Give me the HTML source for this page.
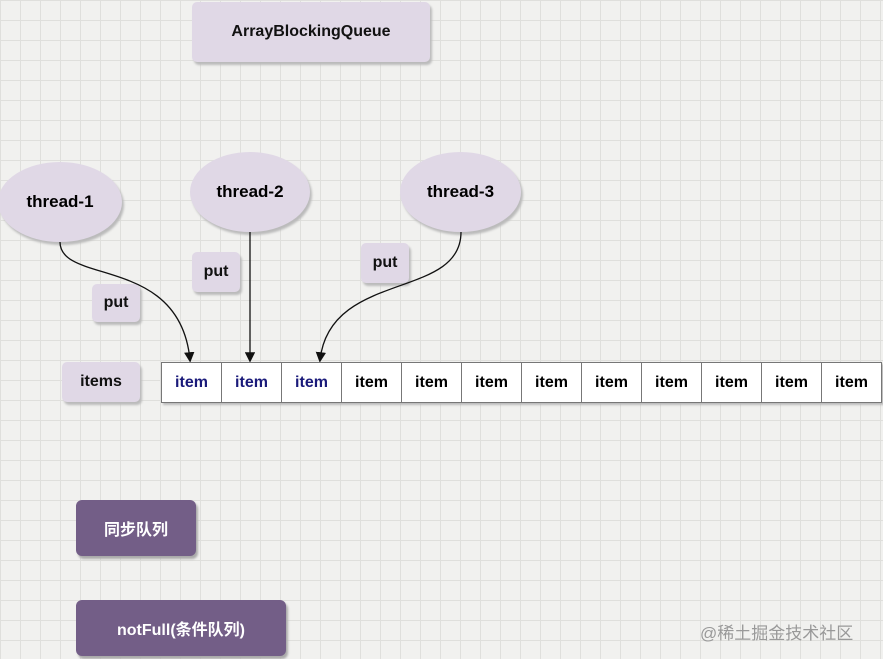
<!DOCTYPE html>
<html><head><style>
body{margin:0;width:883px;height:659px;overflow:hidden;background-color:#f1f1ef;
background-image:linear-gradient(#dfdfdc 1px,transparent 1px),linear-gradient(90deg,#dfdfdc 1px,transparent 1px);
background-size:20px 20px;font-family:"Comic Sans MS","Liberation Sans","Noto Sans CJK SC",sans-serif;position:relative}
.b{position:absolute;background:#e0d8e6;border-radius:5px;box-shadow:2px 3px 2px #bbb;display:flex;align-items:center;justify-content:center;font-weight:bold;font-size:16px;color:#111}
.e{position:absolute;background:#e0d8e6;border-radius:50%;box-shadow:2px 3px 2px #bbb;display:flex;align-items:center;justify-content:center;font-weight:bold;font-size:17px}
.p{position:absolute;background:#735e87;color:#fff;border-radius:6px;box-shadow:2px 3px 2px #aaa;display:flex;align-items:center;justify-content:center;font-weight:bold;font-size:16px}
.row{position:absolute;left:161px;top:362px;display:flex;border:1px solid #777;box-shadow:2px 2px 2px #bbb}
.row div{width:59px;height:39px;border-right:1px solid #777;background:#fff;display:flex;align-items:center;justify-content:center;font-weight:bold;font-size:16px}
.row div:last-child{border-right:none}
.n{color:#1a1a7a}
</style></head><body>
<div class="b" style="left:192px;top:2px;width:238px;height:60px">ArrayBlockingQueue</div>
<div class="e" style="left:-2px;top:162px;width:124px;height:80px">thread-1</div>
<div class="e" style="left:190px;top:152px;width:120px;height:80px">thread-2</div>
<div class="e" style="left:400px;top:152px;width:121px;height:80px">thread-3</div>
<div class="b" style="left:92px;top:284px;width:48px;height:38px">put</div>
<div class="b" style="left:192px;top:252px;width:48px;height:40px">put</div>
<div class="b" style="left:361px;top:243px;width:48px;height:40px">put</div>
<div class="b" style="left:62px;top:362px;width:78px;height:40px">items</div>
<svg style="position:absolute;left:0;top:0" width="883" height="659">
<defs><marker id="a" markerWidth="8" markerHeight="8" refX="6" refY="4" orient="auto"><path d="M0,0 L8,4 L0,8 z" fill="#111"/></marker></defs>
<path d="M60,242 C60,285 180,255 190,360" stroke="#111" stroke-width="1.3" fill="none" marker-end="url(#a)"/>
<path d="M250,232 L250,360" stroke="#111" stroke-width="1.3" fill="none" marker-end="url(#a)"/>
<path d="M461,232 C461,300 330,270 320,360" stroke="#111" stroke-width="1.3" fill="none" marker-end="url(#a)"/>
</svg>
<div class="row"><div class="n">item</div><div class="n">item</div><div class="n">item</div><div>item</div><div>item</div><div>item</div><div>item</div><div>item</div><div>item</div><div>item</div><div>item</div><div>item</div></div>
<div class="p" style="left:76px;top:500px;width:120px;height:56px">同步队列</div>
<div class="p" style="left:76px;top:600px;width:210px;height:56px">notFull(条件队列)</div>
<div style="position:absolute;left:700px;top:619px;font-size:17px;color:#999;font-family:'Liberation Sans','Noto Sans CJK SC',sans-serif">@稀土掘金技术社区</div>
</body></html>
